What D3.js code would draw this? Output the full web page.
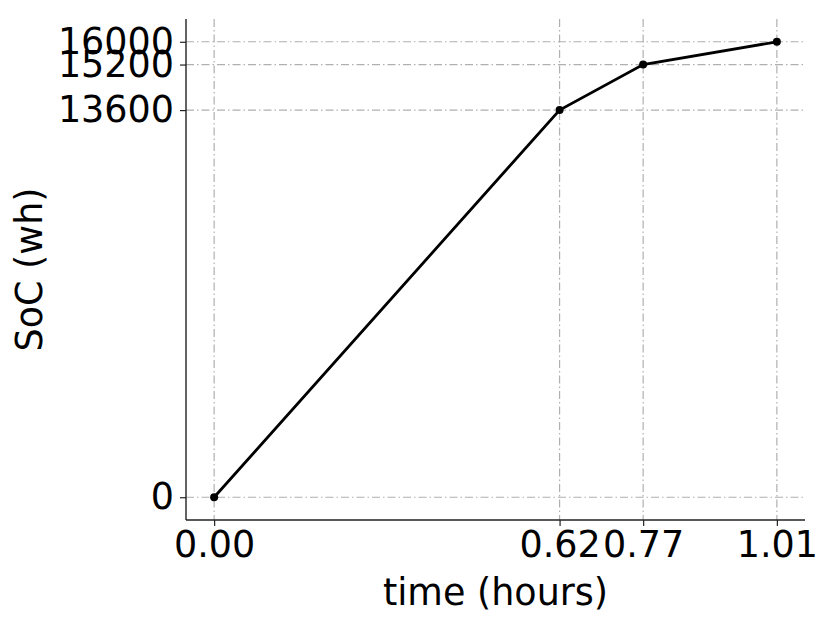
<!DOCTYPE html>
<html>
<head>
<meta charset="utf-8">
<script src="https://cdn.jsdelivr.net/npm/d3@7"></script>
<style>
  body { margin: 0; background: #fff; }
  svg text { font-family: "DejaVu Sans", sans-serif; fill: #000; }
</style>
</head>
<body>
<div id="chart"></div>
<script>
// data
const times = [0, 0.62, 0.77, 1.01];
const soc = [0, 13600, 15200, 16000];
const xTickLabels = ["0.00", "0.62", "0.77", "1.01"];
const yTickLabels = ["0", "13600", "15200", "16000"];

const W = 831, H = 626;
const plot = { left: 186, right: 805, top: 19, bottom: 520 };
const fs = 36.5;

const svg = d3.select("#chart").append("svg")
  .attr("width", W).attr("height", H);

// 5% padding like matplotlib autoscale
const xPad = (d3.max(times) - d3.min(times)) * 0.05;
const yPad = (d3.max(soc) - d3.min(soc)) * 0.05;
const x = d3.scaleLinear()
  .domain([d3.min(times) - xPad, d3.max(times) + xPad])
  .range([plot.left, plot.right]);
const y = d3.scaleLinear()
  .domain([d3.min(soc) - yPad, d3.max(soc) + yPad])
  .range([plot.bottom, plot.top]);

// grid
const grid = svg.append("g")
  .attr("stroke", "#b0b0b0").attr("stroke-width", 1.2)
  .attr("stroke-dasharray", "8,3,1.5,3");
grid.selectAll(".vg").data(times).enter().append("line")
  .attr("x1", d => x(d)).attr("x2", d => x(d))
  .attr("y1", plot.top).attr("y2", plot.bottom);
grid.selectAll(".hg").data(soc).enter().append("line")
  .attr("y1", d => y(d)).attr("y2", d => y(d))
  .attr("x1", plot.left).attr("x2", plot.right);

// axes
const xAxis = svg.append("g")
  .attr("transform", `translate(0,${plot.bottom})`)
  .call(d3.axisBottom(x).tickValues(times)
    .tickFormat((d, i) => xTickLabels[i]).tickSize(6).tickPadding(5));
const yAxis = svg.append("g")
  .attr("transform", `translate(${plot.left},0)`)
  .call(d3.axisLeft(y).tickValues(soc)
    .tickFormat((d, i) => yTickLabels[i]).tickSize(6).tickPadding(6));

[xAxis, yAxis].forEach(g => {
  g.select(".domain").attr("stroke", "#222").attr("stroke-width", 1.4);
  g.selectAll(".tick line").attr("stroke", "#222").attr("stroke-width", 1.2);
  g.selectAll(".tick text").attr("font-size", fs)
    .attr("font-family", "DejaVu Sans").attr("fill", "#000");
});
xAxis.select(".domain").attr("d", `M${plot.left},0H${plot.right}`);
yAxis.select(".domain").attr("d", `M0,${plot.top}V${plot.bottom}`);

// axis labels
svg.append("text")
  .attr("x", (plot.left + plot.right) / 2).attr("y", 605)
  .attr("text-anchor", "middle").attr("font-size", fs)
  .text("time (hours)");
svg.append("text")
  .attr("transform", `translate(42,${(plot.top + plot.bottom) / 2}) rotate(-90)`)
  .attr("text-anchor", "middle").attr("font-size", fs)
  .text("SoC (wh)");

// line and points
const pts = times.map((t, i) => ({ t, v: soc[i] }));
svg.append("path")
  .datum(pts)
  .attr("fill", "none").attr("stroke", "#000").attr("stroke-width", 2.8)
  .attr("d", d3.line().x(d => x(d.t)).y(d => y(d.v)));
svg.selectAll(".pt").data(pts).enter().append("circle")
  .attr("cx", d => x(d.t)).attr("cy", d => y(d.v))
  .attr("r", 4).attr("fill", "#000");
</script>
</body>
</html>
